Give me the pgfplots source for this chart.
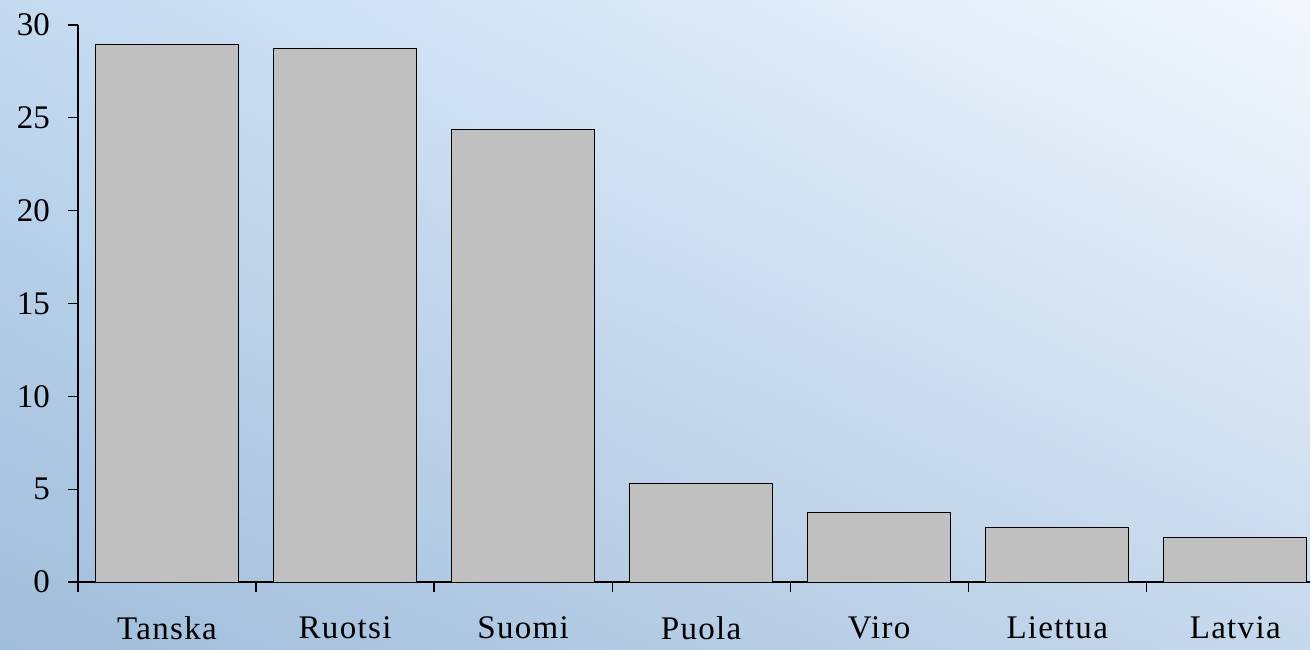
\documentclass[border=0pt]{standalone}
\usepackage{fontspec}
\setmainfont{Liberation Serif}
\usepackage{pgfplots}
\pgfplotsset{compat=1.18}
\usetikzlibrary{shadings}

\definecolor{bgUL}{HTML}{C3DAF1}
\definecolor{bgUR}{HTML}{F2F7FD}
\definecolor{bgLL}{HTML}{A0BDDB}
\definecolor{bgLR}{HTML}{C6D8EC}
\definecolor{barfill}{HTML}{C0C0C0}

\begin{document}
\begin{tikzpicture}
  % textured ice background, approximated by a bilinear shade (1 px = 0.5pt)
  \shade[upper left=bgUL, upper right=bgUR, lower left=bgLL, lower right=bgLR]
    (0pt,0pt) rectangle (655pt,324.5pt);
  \path[use as bounding box] (0pt,0pt) rectangle (655pt,324.5pt);

  \begin{axis}[
    at={(39pt,33.5pt)}, anchor=south west,
    scale only axis,
    width=616pt, height=278.5pt,
    xmin=-0.5, xmax=6.42,
    ymin=0, ymax=30,
    axis lines=left,
    axis line style={-, black, line width=0.6pt},
    tick align=outside,
    ytick={0,5,...,30},
    major tick length=5pt,
    minor tick length=5pt,
    xtick={0,...,6},
    xticklabels={Tanska,Ruotsi,Suomi,Puola,Viro,Liettua,Latvia},
    major x tick style={draw=none},
    minor xtick={-0.5,0.5,...,5.5},
    minor x tick style={black, line width=0.6pt},
    major y tick style={black, line width=0.6pt},
    /pgf/number format/assume math mode=true,
    ticklabel style={font=\fontsize{16.5pt}{18pt}\selectfont},
    xticklabel style={font=\fontsize{16.5pt}{18pt}\selectfont\addfontfeature{LetterSpace=4}, yshift=-9pt},
    yticklabel style={xshift=-5.5pt},
  ]
    \addplot[ybar, bar width=0.805, fill=barfill, draw=black, line width=0.5pt]
    coordinates {
      (0, 28.97)
      (1, 28.72)
      (2, 24.35)
      (3, 5.30)
      (4, 3.74)
      (5, 2.91)
      (6, 2.39)
    };
  \end{axis}
\end{tikzpicture}
\end{document}
